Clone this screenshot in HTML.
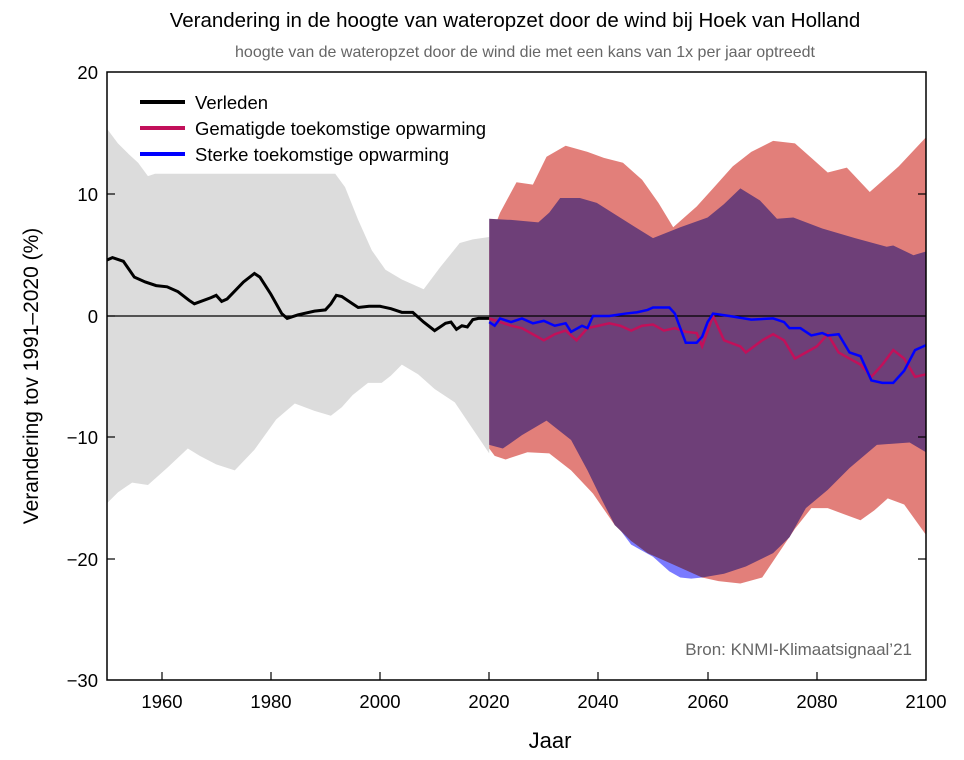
<!DOCTYPE html>
<html><head><meta charset="utf-8"><style>
html,body{margin:0;padding:0;background:#fff;}
svg{display:block;font-family:"Liberation Sans",sans-serif;}
</style></head><body>
<svg width="964" height="760" viewBox="0 0 964 760">
<rect width="964" height="760" fill="#fff"/>
<text x="515" y="27" font-size="20.5" text-anchor="middle" fill="#000">Verandering in de hoogte van wateropzet door de wind bij Hoek van Holland</text>
<text x="525" y="57" font-size="16" text-anchor="middle" fill="#666">hoogte van de wateropzet door de wind die met een kans van 1x per jaar optreedt</text>
<defs><clipPath id="c"><rect x="107" y="72" width="819" height="608"/></clipPath></defs>
<g clip-path="url(#c)">
<g transform="translate(107,316) scale(5.46,-12.16) translate(-1950,0)">
<polygon fill="#dcdcdc" points="1950,15.4 1952,14.2 1954,13.3 1955.7,12.6 1957.5,11.5 1958.8,11.7 1991.8,11.7 1993.6,10.6 1996,7.9 1998.5,5.4 2001,3.8 2004,3 2008,2.2 2011,4 2014.6,6 2017,6.3 2020,6.5 2020,-11.3 2017,-9.3 2013.7,-7.1 2010,-6 2007,-4.8 2004,-4 2002,-4.9 2000.3,-5.5 1997.8,-5.5 1995,-6.5 1993,-7.5 1991,-8.2 1988,-7.8 1984.4,-7.2 1981,-8.5 1977,-11 1973.4,-12.7 1970,-12.2 1967,-11.5 1964.8,-10.9 1961,-12.5 1957.5,-13.9 1954.6,-13.7 1952,-14.5 1950,-15.4"/>
<polygon fill="#e27f7a" points="2020,6.2 2022,8.5 2025,11 2028,10.8 2030.5,13.1 2034,14 2038,13.5 2041,13 2044.5,12.6 2048,11.2 2051,9.3 2053.7,7.3 2058,9 2061,10.5 2064.6,12.3 2068,13.5 2072,14.4 2076,14.2 2079,13 2082,11.8 2085.5,12.2 2089.7,10.2 2095,12.3 2100,14.7 2100,-18 2096,-15.5 2093,-15 2090.5,-16 2088,-16.8 2085,-16.3 2082,-15.8 2079,-15.8 2076,-17.5 2073,-19.5 2070,-21.5 2066,-22 2062,-21.8 2059,-21.5 2050,-19.5 2043,-17.2 2039,-14.6 2035,-12.7 2031,-11.3 2027,-11.2 2023,-11.8 2021,-11.5 2020,-10.9"/>
<polygon fill="#7a7aff" points="2043,-17 2046,-18.8 2050,-19.8 2053,-21 2055,-21.5 2057,-21.6 2059,-21.5 2065,-20.8 2070,-19 2074,-17.5 2078,-15.6 2070,-17 2055,-19 2043,-16"/>
<polygon fill="#6e3f78" points="2020,8 2024,7.9 2029,7.7 2031,8.5 2033,9.7 2036.6,9.7 2039.7,9.3 2045,7.8 2050,6.4 2055,7.3 2060,8.1 2063,9.2 2066,10.5 2069.6,9.5 2072.7,8 2075.7,8.1 2081,7.2 2087,6.4 2092.8,5.7 2094,5.8 2097.7,5 2100,5.3 2100,-11.2 2097,-10.4 2091,-10.6 2086,-12.5 2082,-14.3 2078,-15.8 2075,-18.2 2072,-19.5 2067,-20.6 2063,-21.2 2059,-21.5 2054,-20.5 2049,-19.5 2046,-18.5 2043,-17.2 2040.5,-15 2038,-12.7 2035,-10.2 2030.5,-8.6 2026,-9.8 2022.5,-10.9 2020,-10.6"/>
<line x1="1950" y1="0" x2="2100" y2="0" stroke="#000" stroke-width="1.2" vector-effect="non-scaling-stroke"/>
<polyline fill="none" stroke="#000" stroke-width="3" vector-effect="non-scaling-stroke" points="1950,4.6 1951,4.8 1953,4.5 1955,3.2 1957,2.8 1959,2.5 1961,2.4 1963,2 1965,1.3 1966,1 1969,1.5 1970,1.7 1971,1.2 1972,1.4 1975,2.8 1977,3.5 1978,3.2 1980,1.8 1982,0.2 1983,-0.2 1985,0.1 1988,0.4 1990,0.5 1991,1 1992,1.7 1993,1.6 1995,1 1996,0.7 1998,0.8 2000,0.8 2002,0.6 2004,0.3 2006,0.3 2008,-0.5 2010,-1.2 2011,-0.9 2012,-0.6 2013,-0.5 2014,-1.1 2015,-0.8 2016,-0.9 2017,-0.3 2018,-0.2 2020,-0.2"/>
<polyline fill="none" stroke="#c2105a" stroke-width="2.5" vector-effect="non-scaling-stroke" points="2020,-0.2 2022,-0.5 2024,-0.8 2026,-1 2028,-1.5 2030,-2 2032,-1.5 2034,-1.2 2036,-2 2038,-1 2040,-0.8 2042,-0.6 2044,-0.8 2046,-1.2 2048,-0.8 2050,-0.7 2052,-1.2 2054,-1 2056,-1.3 2058,-1.4 2059,-2.5 2061,0 2063,-2 2066,-2.5 2067,-3 2070,-2 2072,-1.5 2074,-2 2076,-3.5 2078,-3 2080,-2.5 2082,-1.5 2084,-3 2086,-3.5 2088,-4 2090,-5 2092,-4 2094,-2.8 2096,-3.5 2098,-5 2100,-4.8"/>
<polyline fill="none" stroke="#0000ff" stroke-width="2.5" vector-effect="non-scaling-stroke" points="2020,-0.5 2021,-0.8 2022,-0.2 2024,-0.5 2026,-0.2 2028,-0.6 2030,-0.4 2032,-0.8 2034,-0.6 2035,-1.3 2037,-0.8 2038,-1 2039,0 2042,0 2045,0.2 2047,0.3 2049,0.5 2050,0.7 2053,0.7 2054,0.2 2056,-2.2 2058,-2.2 2059,-1.7 2060,-0.5 2061,0.2 2064,0 2068,-0.3 2072,-0.2 2074,-0.5 2075,-1 2077,-1 2079,-1.6 2081,-1.4 2082,-1.6 2084,-1.5 2086,-3 2088,-3.3 2090,-5.3 2092,-5.5 2094,-5.5 2096,-4.5 2098,-2.8 2100,-2.4"/>
</g></g>
<rect x="107" y="72" width="819" height="608" fill="none" stroke="#000" stroke-width="1.5"/>
<g stroke="#000" stroke-width="1.2">
<line x1="107" y1="194" x2="115" y2="194"/><line x1="107" y1="316" x2="115" y2="316"/><line x1="107" y1="437" x2="115" y2="437"/><line x1="107" y1="559" x2="115" y2="559"/>
<line x1="918" y1="194" x2="926" y2="194"/><line x1="918" y1="437" x2="926" y2="437"/><line x1="918" y1="559" x2="926" y2="559"/>
<line x1="162" y1="680" x2="162" y2="672"/><line x1="271" y1="680" x2="271" y2="672"/><line x1="380" y1="680" x2="380" y2="672"/><line x1="489" y1="680" x2="489" y2="672"/><line x1="598" y1="680" x2="598" y2="672"/><line x1="708" y1="680" x2="708" y2="672"/><line x1="817" y1="680" x2="817" y2="672"/>
</g>
<g font-size="18.5" text-anchor="end" fill="#000">
<text x="98" y="79">20</text><text x="98" y="201">10</text><text x="98" y="323">0</text><text x="98" y="444">−10</text><text x="98" y="566">−20</text><text x="98" y="687">−30</text>
</g>
<g font-size="18.5" text-anchor="middle" fill="#000">
<text x="162" y="708">1960</text><text x="271" y="708">1980</text><text x="380" y="708">2000</text><text x="489" y="708">2020</text><text x="598" y="708">2040</text><text x="708" y="708">2060</text><text x="817" y="708">2080</text><text x="926" y="708">2100</text>
</g>
<text x="550" y="748" font-size="22" text-anchor="middle">Jaar</text>
<text transform="translate(38,376) rotate(-90)" font-size="21" text-anchor="middle">Verandering tov 1991–2020 (%)</text>
<g font-size="18.5">
<line x1="140" y1="102" x2="185" y2="102" stroke="#000" stroke-width="4"/><text x="195" y="109">Verleden</text>
<line x1="140" y1="128" x2="185" y2="128" stroke="#c2105a" stroke-width="4"/><text x="195" y="135">Gematigde toekomstige opwarming</text>
<line x1="140" y1="154" x2="185" y2="154" stroke="#0000ff" stroke-width="4"/><text x="195" y="161">Sterke toekomstige opwarming</text>
</g>
<text x="912" y="655" font-size="17" text-anchor="end" fill="#666">Bron: KNMI-Klimaatsignaal’21</text>
</svg>
</body></html>
